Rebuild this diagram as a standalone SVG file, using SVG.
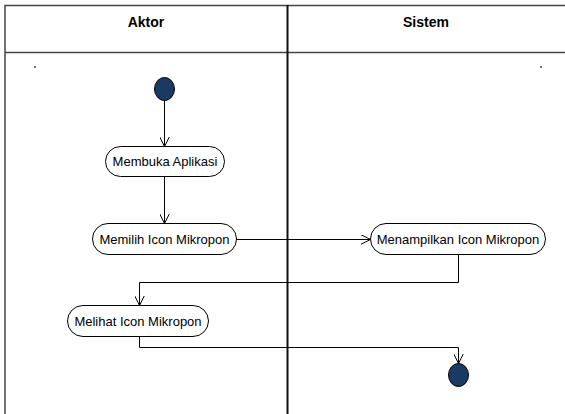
<svg xmlns="http://www.w3.org/2000/svg" width="565" height="414" viewBox="0 0 565 414">
<defs>
<style>
.lane{fill:none;stroke:#444;stroke-width:1.5}
.div{fill:none;stroke:#111;stroke-width:2}
.hdr{font-family:"Liberation Sans",Arial,sans-serif;font-size:14px;font-weight:bold;fill:#000;text-anchor:middle}
.act{fill:#fff;stroke:#000;stroke-width:1}
.lbl{font-family:"Liberation Sans",Arial,sans-serif;font-size:13px;fill:#000;text-anchor:middle}
.node{fill:#1b3a63;stroke:#000;stroke-width:1}
.edge{fill:none;stroke:#000;stroke-width:1;marker-end:url(#arr)}
</style>
<marker id="arr" viewBox="0 0 10 10" refX="10" refY="5" markerWidth="10" markerHeight="10" markerUnits="userSpaceOnUse" orient="auto">
<path d="M0,0 L10,5 L0,10" fill="none" stroke="#000" stroke-width="1"/>
</marker>
</defs>
<rect width="565" height="414" fill="#fff"/>
<g id="lanes">
<path class="lane" d="M5,420 V5.5 H570"/>
<line class="lane" x1="5" y1="52.5" x2="570" y2="52.5"/>
<line class="div" x1="287.5" y1="5" x2="287.5" y2="420"/>
<text class="hdr" x="146" y="27">Aktor</text>
<text class="hdr" x="426" y="27">Sistem</text>
<rect x="34" y="66" width="2" height="2" fill="#777"/>
<rect x="540" y="66" width="2" height="2" fill="#777"/>
</g>
<g id="start"><ellipse class="node" cx="164.5" cy="89" rx="10" ry="11.5"/></g>
<g id="membuka"><rect class="act" x="105.5" y="146.5" width="119" height="30" rx="15"/><text class="lbl" x="165" y="166">Membuka Aplikasi</text></g>
<g id="memilih"><rect class="act" x="92.5" y="223.5" width="144" height="31" rx="15.5"/><text class="lbl" x="164.5" y="244">Memilih Icon Mikropon</text></g>
<g id="menampilkan"><rect class="act" x="370.5" y="223.5" width="175" height="31" rx="15.5"/><text class="lbl" x="458" y="244">Menampilkan Icon Mikropon</text></g>
<g id="melihat"><rect class="act" x="67.5" y="305.5" width="141" height="31" rx="15.5"/><text class="lbl" x="138" y="326">Melihat Icon Mikropon</text></g>
<g id="end"><ellipse class="node" cx="458.5" cy="375" rx="10" ry="11.5"/></g>
<g id="connectors">
<path class="edge" d="M164.5,100.5 V146.5"/>
<path class="edge" d="M164.5,176.5 V223.5"/>
<path class="edge" d="M236.5,239.5 H370.5"/>
<path class="edge" d="M458.5,254.5 V282.5 H139.5 V305.5"/>
<path class="edge" d="M139.5,336.5 V347.5 H458.5 V363.5"/>
</g>
</svg>
